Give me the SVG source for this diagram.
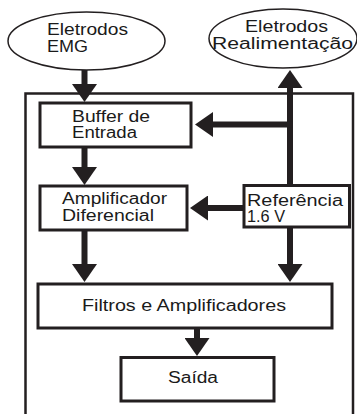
<svg xmlns="http://www.w3.org/2000/svg" width="357" height="414" viewBox="0 0 357 414">
<style>
.box{fill:#fff;stroke:#231f20;stroke-width:3}
.ell{fill:#fff;stroke:#231f20;stroke-width:1.5}
.outer{fill:none;stroke:#231f20;stroke-width:2.5}
.wire{fill:none;stroke:#231f20;stroke-width:6;stroke-linecap:butt}
.t{font-family:"Liberation Sans",Arial,sans-serif;font-size:16px;fill:#1a1a1a}
</style>
<defs>
<marker id="ah" markerUnits="userSpaceOnUse" viewBox="0 0 18 25" markerWidth="18" markerHeight="25" refX="1" refY="12.5" orient="auto">
<path d="M0,0 L18,12.5 L0,25 z" fill="#231f20"/>
</marker>
</defs>
<rect class="outer" x="25.5" y="93.5" width="327.5" height="330"/>
<g id="eletrodos-emg">
<ellipse class="ell" cx="86.5" cy="41" rx="78.5" ry="29"/>
<text class="t" x="47" y="35" textLength="81" lengthAdjust="spacingAndGlyphs">Eletrodos</text>
<text class="t" x="47" y="52" textLength="41" lengthAdjust="spacingAndGlyphs">EMG</text>
</g>
<g id="eletrodos-realimentacao">
<ellipse class="ell" cx="283" cy="38.5" rx="74" ry="29.5"/>
<text class="t" x="245" y="32" textLength="83" lengthAdjust="spacingAndGlyphs">Eletrodos</text>
<text class="t" x="212" y="49" textLength="141" lengthAdjust="spacingAndGlyphs">Realimentação</text>
</g>
<g id="connectors">
<line class="wire" x1="84.5" y1="70" x2="84.5" y2="85" marker-end="url(#ah)"/>
<line class="wire" x1="84.5" y1="147" x2="84.5" y2="168" marker-end="url(#ah)"/>
<line class="wire" x1="84.5" y1="230" x2="84.5" y2="265" marker-end="url(#ah)"/>
<line class="wire" x1="290" y1="186" x2="290" y2="87" marker-end="url(#ah)"/>
<line class="wire" x1="293" y1="124.5" x2="212" y2="124.5" marker-end="url(#ah)"/>
<line class="wire" x1="244" y1="208" x2="207" y2="208" marker-end="url(#ah)"/>
<line class="wire" x1="290" y1="227" x2="290" y2="265" marker-end="url(#ah)"/>
<line class="wire" x1="197" y1="328" x2="197" y2="339" marker-end="url(#ah)"/>
</g>
<g id="buffer">
<rect class="box" x="40" y="103" width="151" height="44"/>
<text class="t" x="72" y="122" textLength="78" lengthAdjust="spacingAndGlyphs">Buffer de</text>
<text class="t" x="72" y="138" textLength="65" lengthAdjust="spacingAndGlyphs">Entrada</text>
</g>
<g id="amplificador">
<rect class="box" x="40" y="186" width="147" height="44"/>
<text class="t" x="62" y="204" textLength="105" lengthAdjust="spacingAndGlyphs">Amplificador</text>
<text class="t" x="62" y="221" textLength="92" lengthAdjust="spacingAndGlyphs">Diferencial</text>
</g>
<g id="referencia">
<rect class="box" x="244" y="185.5" width="105.5" height="41.5"/>
<text class="t" x="247" y="206" textLength="96" lengthAdjust="spacingAndGlyphs">Referência</text>
<text class="t" x="247" y="222" textLength="38" lengthAdjust="spacingAndGlyphs">1.6 V</text>
</g>
<g id="filtros">
<rect class="box" x="38" y="284" width="294" height="44"/>
<text class="t" x="82" y="311" textLength="204" lengthAdjust="spacingAndGlyphs">Filtros e Amplificadores</text>
</g>
<g id="saida">
<rect class="box" x="121" y="357.5" width="153" height="43.5"/>
<text class="t" x="168" y="383" textLength="50" lengthAdjust="spacingAndGlyphs">Saída</text>
</g>
</svg>
